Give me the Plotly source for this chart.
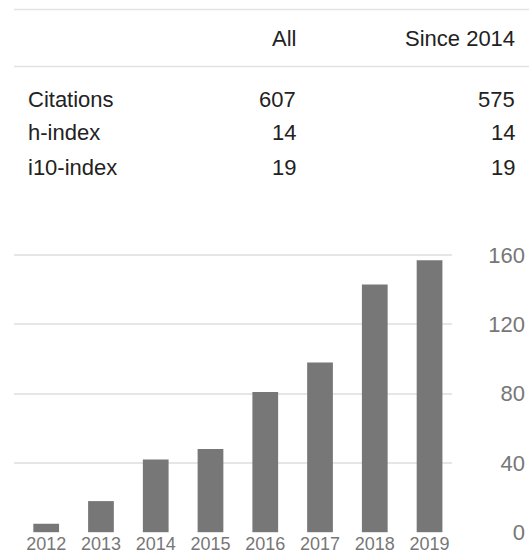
import plotly.graph_objects as go

# ---- data ----
years = ["2012", "2013", "2014", "2015", "2016", "2017", "2018", "2019"]
citations = [5, 18, 42, 48, 81, 98, 143, 157]
y_ticks = [0, 40, 80, 120, 160]

table_header = ["", "All", "Since 2014"]
row_labels = ["Citations", "h-index", "i10-index"]
col_all = ["607", "14", "19"]
col_since = ["575", "14", "19"]

W, H = 529, 554
FONT = "Arial, Liberation Sans, Helvetica, sans-serif"

def px(x):
    return x / W

def py(y):
    return 1 - y / H

fig = go.Figure()
fig.add_trace(go.Bar(
    x=years, y=citations,
    marker=dict(color="#777777", line=dict(width=0)),
    hoverinfo="x+y",
))

# table text
header_y = 38.1
row_ys = [99.1, 132.6, 167.4]
ann = []
ann.append(dict(x=px(298), y=py(header_y), text=table_header[1], xanchor="right"))
ann.append(dict(x=px(517), y=py(header_y), text=table_header[2], xanchor="right"))
for i, lab in enumerate(row_labels):
    ann.append(dict(x=px(26), y=py(row_ys[i]), text=lab, xanchor="left"))
    ann.append(dict(x=px(298), y=py(row_ys[i]), text=col_all[i], xanchor="right"))
    ann.append(dict(x=px(517), y=py(row_ys[i]), text=col_since[i], xanchor="right"))
for a in ann:
    a.update(xref="paper", yref="paper", yanchor="middle", showarrow=False,
             font=dict(family=FONT, size=22, color="#222222"))

shapes = [
    dict(type="line", xref="paper", yref="paper", x0=px(14), x1=1, y0=py(9.5), y1=py(9.5),
         line=dict(color="#e3e3e3", width=1.5)),
    dict(type="line", xref="paper", yref="paper", x0=px(14), x1=1, y0=py(66.5), y1=py(66.5),
         line=dict(color="#e3e3e3", width=1.5)),
]

y0_px = 532.3
unit = 1.733
rng = [-0.3, 165]
dom_bottom = py(y0_px + 0.3 * unit)
dom_top = py(y0_px - 165 * unit)

fig.update_layout(
    width=W, height=H,
    margin=dict(l=0, r=0, t=0, b=0, pad=0, autoexpand=False),
    paper_bgcolor="white", plot_bgcolor="white",
    showlegend=False,
    bargap=0.53,
    annotations=ann,
    shapes=shapes,
    xaxis=dict(
        domain=[px(14), px(452)],
        range=[-0.588, 7.41],
        type="category",
        automargin=False,
        showgrid=False, zeroline=False, showline=False,
        ticks="", ticklabelstandoff=-2,
        tickfont=dict(family=FONT, size=18, color="#777777"),
        fixedrange=True,
    ),
    yaxis=dict(
        domain=[dom_bottom, dom_top],
        range=rng,
        automargin=False,
        anchor="free", position=px(525), side="left",
        tickvals=y_ticks,
        showgrid=True, gridcolor="#e6e6e6", gridwidth=1.5,
        zeroline=False, showline=False, ticks="",
        tickfont=dict(family=FONT, size=22, color="#777777"),
        fixedrange=True,
    ),
)

post = (
    "document.documentElement.style.margin='0';"
    "document.documentElement.style.overflow='hidden';"
    "document.body.style.margin='0';"
    "document.body.style.overflow='hidden';"
)

fig.write_html(
    "out.html",
    config={"displayModeBar": False},
    post_script=post,
)
